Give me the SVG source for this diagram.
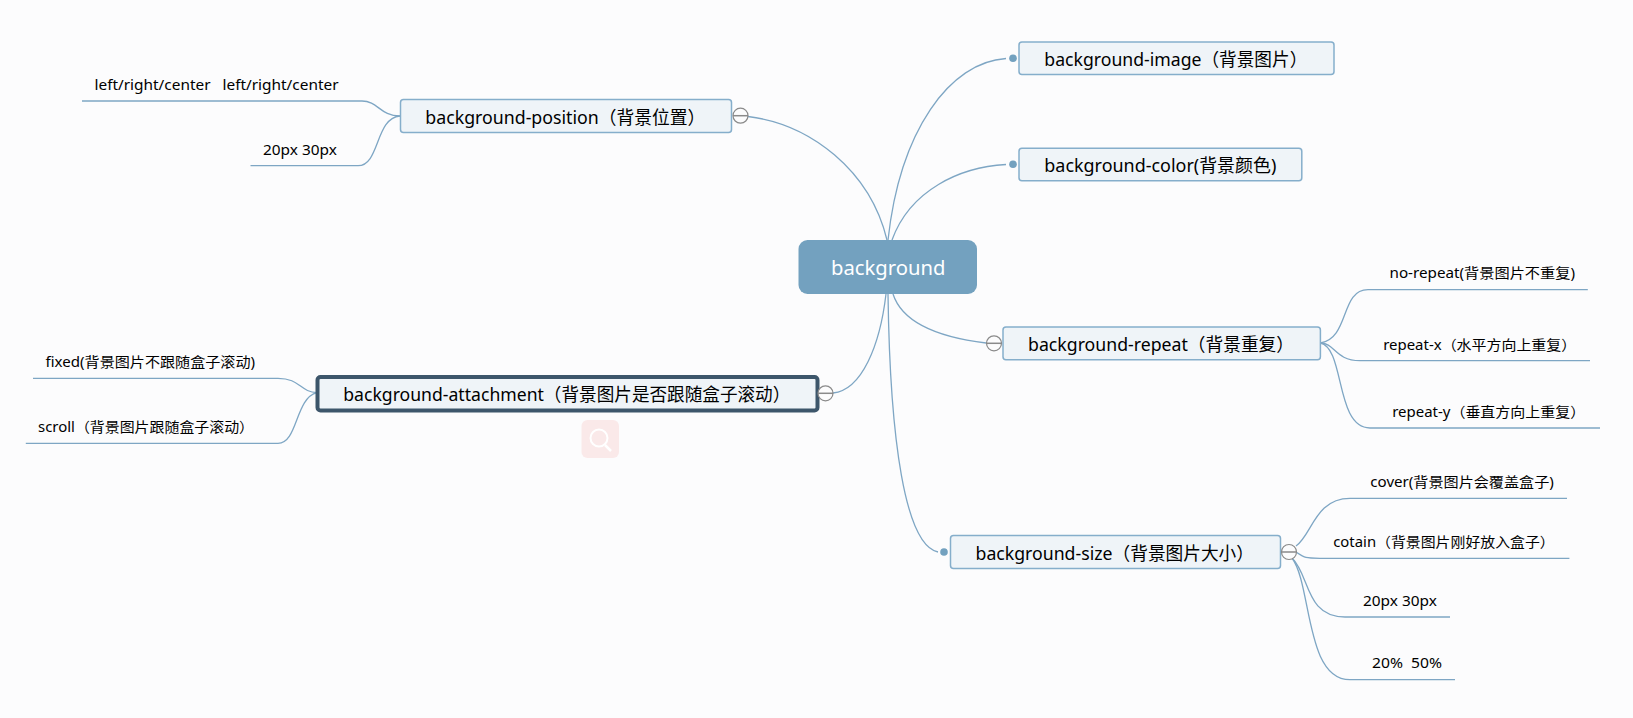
<svg xmlns="http://www.w3.org/2000/svg" width="1633" height="718" viewBox="0 0 1633 718">
<style>
text{font-family:"Noto Sans","Noto Sans CJK SC","DejaVu Sans",sans-serif;fill:#000;white-space:pre}
.n{font-size:18px}.l{font-size:14px}
.b{fill:#eff4f8;stroke:#85aecb;stroke-width:1.5}
.c path{fill:none;stroke:#7ea6c4;stroke-width:1.3}
.dot{fill:#73a1bf}
.t circle{fill:#fcfcfd;stroke:#8a8a8a;stroke-width:1.2}
.t path{fill:none;stroke:#8a8a8a;stroke-width:1.5}
</style>
<rect width="1633" height="718" fill="#fcfcfd"/>
<g id="connectors" class="c">
<path d="M748 116.500C810 124 870 170 887 240"/>
<path d="M1006 58.500C950 62 900 130 888 240"/>
<path d="M1006 164.500C960 167 910 190 892 240"/>
<path d="M893 294C903 325 945 338 986 343"/>
<path d="M833 393C862 390 880 345 886 294"/>
<path d="M938 552C905 545 890 440 888 294"/>
<path d="M400 116C380 116 378 101 362 101H82"/>
<path d="M400 116C375 118 380 165.700 358 165.700H250.500"/>
<path d="M317 392.700C300 392 300 378.300 278 378.300H33"/>
<path d="M317 392.700C295 398 298 443.300 278 443.300H25.800"/>
<path d="M1320.400 343C1350 338 1340 289.700 1368 289.700H1587.800"/>
<path d="M1320.400 343C1335 343 1335 360.700 1360 360.700H1590"/>
<path d="M1320.400 343C1345 348 1335 428 1370 428H1600"/>
<path d="M1296 546C1312 535 1315 498.300 1350 498.300H1567"/>
<path d="M1296 552C1305 558 1305 558.300 1320 558.300H1569.400"/>
<path d="M1292 558C1310 575 1305 617 1345 617H1450"/>
<path d="M1292 558C1312 585 1305 679.700 1350 679.700H1455"/>
</g>
<g id="center"><rect x="798.500" y="240" width="178.500" height="54" rx="9" fill="#73a1bf"/><text x="831" y="275" font-size="20" textLength="114.400" lengthAdjust="spacingAndGlyphs" style="fill:#fff">background</text></g>
<g id="node-position"><rect class="b" x="400.500" y="99.500" width="331" height="33" rx="3"/><text class="n" x="425.300" y="124" textLength="280" lengthAdjust="spacingAndGlyphs">background-position（背景位置）</text>
<g class="t"><circle cx="740.500" cy="115.700" r="7.500"/><path d="M733 115.700H748"/></g></g>
<g id="node-attachment"><rect x="317.500" y="377" width="500" height="33.500" rx="3" fill="#eff4f8" stroke="#3d566b" stroke-width="4"/><text class="n" x="343.300" y="401" textLength="447" lengthAdjust="spacingAndGlyphs">background-attachment（背景图片是否跟随盒子滚动）</text>
<g class="t"><circle cx="825.500" cy="393.300" r="7.500"/><path d="M818 393.300H833"/></g></g>
<g id="search-icon"><rect x="581.500" y="420" width="37.500" height="38" rx="6" fill="#fae9e9"/><circle cx="599" cy="438" r="8.500" fill="none" stroke="#fff" stroke-width="2"/><path d="M605 445L611 451" stroke="#fff" stroke-width="2.500" fill="none"/></g>
<g id="node-image"><rect class="b" x="1019" y="42" width="315" height="32.500" rx="3"/><text class="n" x="1044.300" y="66" textLength="263" lengthAdjust="spacingAndGlyphs">background-image（背景图片）</text><circle class="dot" cx="1013" cy="58.300" r="3.800"/></g>
<g id="node-color"><rect class="b" x="1019" y="148.300" width="282.800" height="32.500" rx="3"/><text class="n" x="1044.300" y="172.300" textLength="232" lengthAdjust="spacingAndGlyphs">background-color(背景颜色)</text><circle class="dot" cx="1013" cy="164.300" r="3.800"/></g>
<g id="node-repeat"><rect class="b" x="1003" y="327" width="317.400" height="32.700" rx="3"/><text class="n" x="1028" y="350.700" textLength="266" lengthAdjust="spacingAndGlyphs">background-repeat（背景重复）</text>
<g class="t"><circle cx="994" cy="343.300" r="7.500"/><path d="M986.500 343.300H1001.500"/></g></g>
<g id="node-size"><rect class="b" x="950.500" y="535.500" width="330" height="33" rx="3"/><text class="n" x="975.500" y="559.700" textLength="278.500" lengthAdjust="spacingAndGlyphs">background-size（背景图片大小）</text><circle class="dot" cx="944" cy="552" r="3.800"/>
<g class="t"><circle cx="1289" cy="552" r="7.500"/><path d="M1281.500 552H1296.500"/></g></g>
<g id="leaf-lr"><text class="l" x="94.500" y="90" textLength="244" lengthAdjust="spacingAndGlyphs">left/right/center   left/right/center</text></g>
<g id="leaf-p20"><text class="l" x="263" y="155" textLength="73.800" lengthAdjust="spacingAndGlyphs">20px 30px</text></g>
<g id="leaf-fixed"><text class="l" x="45.500" y="366.700" textLength="209.500" lengthAdjust="spacingAndGlyphs">fixed(背景图片不跟随盒子滚动)</text></g>
<g id="leaf-scroll"><text class="l" x="38" y="431.700" textLength="216" lengthAdjust="spacingAndGlyphs">scroll（背景图片跟随盒子滚动）</text></g>
<g id="leaf-norepeat"><text class="l" x="1389.500" y="278" textLength="185.500" lengthAdjust="spacingAndGlyphs">no-repeat(背景图片不重复)</text></g>
<g id="leaf-repeatx"><text class="l" x="1383.200" y="350" textLength="193" lengthAdjust="spacingAndGlyphs">repeat-x（水平方向上重复）</text></g>
<g id="leaf-repeaty"><text class="l" x="1392.200" y="416.700" textLength="193" lengthAdjust="spacingAndGlyphs">repeat-y（垂直方向上重复）</text></g>
<g id="leaf-cover"><text class="l" x="1370.300" y="487.300" textLength="183.500" lengthAdjust="spacingAndGlyphs">cover(背景图片会覆盖盒子)</text></g>
<g id="leaf-cotain"><text class="l" x="1333.200" y="546.700" textLength="221.500" lengthAdjust="spacingAndGlyphs">cotain（背景图片刚好放入盒子）</text></g>
<g id="leaf-s20"><text class="l" x="1363" y="606" textLength="73.800" lengthAdjust="spacingAndGlyphs">20px 30px</text></g>
<g id="leaf-s50"><text class="l" x="1372" y="668" textLength="70" lengthAdjust="spacingAndGlyphs">20%  50%</text></g>
</svg>
